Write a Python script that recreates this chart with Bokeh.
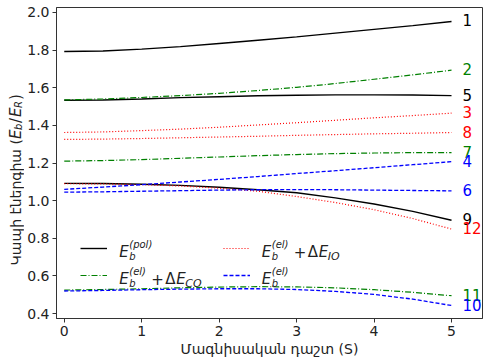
import math
from bokeh.plotting import figure
from bokeh.layouts import row
from bokeh.models import (Range1d, Legend, LegendItem, Label, ColumnDataSource,
                          FixedTicker, PrintfTickFormatter)
from bokeh.core.properties import value
from bokeh.embed import file_html
from bokeh.resources import INLINE

# ---------------- data ----------------
field = [0, 0.5, 1, 1.5, 2, 2.5, 3, 3.5, 4, 4.5, 5]

curve1 = [1.792, 1.795, 1.805, 1.818, 1.835, 1.852, 1.870, 1.890, 1.910, 1.930, 1.952]
curve5 = [1.533, 1.535, 1.540, 1.547, 1.552, 1.557, 1.560, 1.562, 1.562, 1.561, 1.558]
curve9 = [1.092, 1.091, 1.087, 1.081, 1.071, 1.058, 1.042, 1.015, 0.982, 0.943, 0.896]

curve2 = [1.535, 1.540, 1.548, 1.558, 1.570, 1.585, 1.602, 1.622, 1.645, 1.668, 1.693]
curve7 = [1.210, 1.213, 1.218, 1.225, 1.232, 1.239, 1.245, 1.250, 1.253, 1.255, 1.255]
curve11 = [0.525, 0.528, 0.532, 0.537, 0.541, 0.543, 0.542, 0.537, 0.527, 0.513, 0.495]

curve3 = [1.362, 1.365, 1.372, 1.380, 1.390, 1.402, 1.414, 1.427, 1.440, 1.452, 1.465]
curve8 = [1.325, 1.327, 1.330, 1.334, 1.338, 1.342, 1.347, 1.351, 1.355, 1.358, 1.362]
curve12 = [1.090, 1.089, 1.085, 1.078, 1.066, 1.050, 1.022, 0.990, 0.952, 0.905, 0.849]

curve4 = [1.060, 1.072, 1.085, 1.099, 1.113, 1.128, 1.144, 1.159, 1.175, 1.191, 1.207]
curve6 = [1.045, 1.047, 1.050, 1.053, 1.056, 1.058, 1.059, 1.058, 1.056, 1.054, 1.052]
curve10 = [0.520, 0.523, 0.527, 0.530, 0.532, 0.532, 0.528, 0.518, 0.502, 0.477, 0.443]

curve_labels = ["1", "5", "9", "2", "7", "11", "3", "8", "12", "4", "6", "10"]

x_ticks = [0, 1, 2, 3, 4, 5]
y_ticks = [0.4, 0.6, 0.8, 1.0, 1.2, 1.4, 1.6, 1.8, 2.0]

x_title = "Մագնիսական դաշտ (S)"
y_title = "Կապի էներգիա ("

# ---------------- styles ----------------
FONT = "DejaVu Sans"
BLACK, GREEN, RED, BLUE = "#000000", "#008000", "#ff0000", "#0000ff"

groups = [
    (BLACK, "solid", 1.4, [curve1, curve5, curve9]),
    (GREEN, "6 2 1 2", 1.2, [curve2, curve7, curve11]),
    (RED, "1 2", 1.2, [curve3, curve8, curve12]),
    (BLUE, "4 2", 1.3, [curve4, curve6, curve10]),
]

LABEL_W = 24
p = figure(width=484 - LABEL_W, height=359, output_backend="svg", toolbar_location=None,
           x_range=Range1d(-0.1, 5.4), y_range=Range1d(0.374, 2.026),
           min_border_left=54 - LABEL_W, min_border_right=2, min_border_top=7,
           min_border_bottom=39)
p.background_fill_color = "white"
p.border_fill_color = "white"
p.outline_line_color = "#333333"
p.outline_line_width = 1
p.xgrid.visible = False
p.ygrid.visible = False

group_renderers = []
label_x, label_y, label_t, label_c = [], [], [], []
i = 0
for color, dash, lw, series in groups:
    first = None
    for s in series:
        r = p.line(field, s, line_color=color, line_dash=dash, line_width=lw)
        if first is None:
            first = r
        label_x.append(field[-1])
        label_y.append(s[-1])
        label_t.append(curve_labels[i])
        label_c.append(color)
        i += 1
    group_renderers.append(first)

src = ColumnDataSource(dict(x=label_x, y=label_y, t=label_t, c=label_c))
p.text(x="x", y="y", text="t", text_color="c", source=src, x_offset=11, y_offset=-1,
       text_font=value(FONT), text_font_size="15px", text_baseline="middle",
       text_align="left")

# axes
for ax in (p.xaxis[0], p.yaxis[0]):
    ax.axis_line_color = "#333333"
    ax.major_tick_line_color = "#333333"
    ax.minor_tick_line_color = None
    ax.major_tick_out = 4
    ax.major_tick_in = 0
    ax.major_label_text_font = FONT
    ax.major_label_text_font_size = "14px"
    ax.major_label_text_color = "#222222"
    ax.axis_label_text_font = FONT
    ax.axis_label_text_font_size = "14px"
    ax.axis_label_text_font_style = "normal"
    ax.axis_label_text_color = "#222222"

p.xaxis.ticker = FixedTicker(ticks=x_ticks)
p.yaxis.ticker = FixedTicker(ticks=y_ticks)
p.yaxis.formatter = PrintfTickFormatter(format="%.1f")
p.xaxis.axis_label = x_title
p.xaxis.axis_label_standoff = 2
p.xaxis.major_label_standoff = 3
p.yaxis.major_label_standoff = 3

# legend: line samples via Legend, texts via labels
legend = Legend(items=[
    LegendItem(label=" ", renderers=[group_renderers[0]]),
    LegendItem(label=" ", renderers=[group_renderers[1]]),
    LegendItem(label=" ", renderers=[group_renderers[2]]),
    LegendItem(label=" ", renderers=[group_renderers[3]]),
], ncols=2, location=(24, 33), glyph_width=27, glyph_height=20, label_height=20,
   label_width=104, spacing=7, padding=0, margin=0, label_standoff=5,
   border_line_color=None, background_fill_alpha=0)
p.add_layout(legend)

def leg(text, xd, yd, dx, dy, size, style="normal"):
    p.add_layout(Label(x=xd, y=yd, text=text, x_offset=dx, y_offset=dy,
                       text_font=FONT, text_font_size=size, text_font_style=style,
                       text_baseline="alphabetic", text_align="left",
                       text_color="#222222"))

row1, row2 = 0.725, 0.583
col1, col2 = 0.71, 2.55

def entry(xd, yd, sup, sub=None):
    leg("E", xd, yd, 0, 0, "15px", "italic")
    leg("b", xd, yd, 10, -4, "10px", "italic")
    leg(sup, xd, yd, 10, 8, "10px", "italic")
    if sub is not None:
        leg("+", xd, yd, 32, 0, "15px")
        leg("Δ", xd, yd, 46, 0, "15px")
        leg("E", xd, yd, 57, 0, "15px", "italic")
        leg(sub, xd, yd, 66, -4, "11px", "italic")

entry(col1, row1, "(pol)")
entry(col1, row2, "(el)", "CO")
entry(col2, row1, "(el)", "IO")
entry(col2, row2, "(el)")

# ---------- thin strip on the left carrying the y-axis title ----------
q = figure(width=LABEL_W, height=359, output_backend="svg", toolbar_location=None,
           x_range=Range1d(0, 1), y_range=p.y_range,
           min_border_left=0, min_border_right=0, min_border_top=7,
           min_border_bottom=39)
q.axis.visible = False
q.grid.visible = False
q.outline_line_color = None
q.background_fill_color = "white"
q.border_fill_color = "white"

def ylab(text, off_along, off_across, size, style="normal", align="left"):
    q.add_layout(Label(x=15, y=1.327, x_units="screen", y_units="data",
                       text=text, angle=math.pi / 2, text_align=align,
                       text_baseline="middle", x_offset=off_across, y_offset=off_along,
                       text_font=FONT, text_font_size=size, text_font_style=style,
                       text_color="#222222"))

ylab(y_title, 0, 0, "14px", align="right")
ylab("E", 0, 0, "15px", "italic")
ylab("b", 9, 3, "10px", "italic")
ylab("/", 16, 0, "15px")
ylab("E", 22, 0, "15px", "italic")
ylab("R", 31, 3, "10px", "italic")
ylab(")", 39, 0, "15px")

layout = row(q, p, spacing=0)
open("out.html", "w").write(file_html(layout, INLINE))
